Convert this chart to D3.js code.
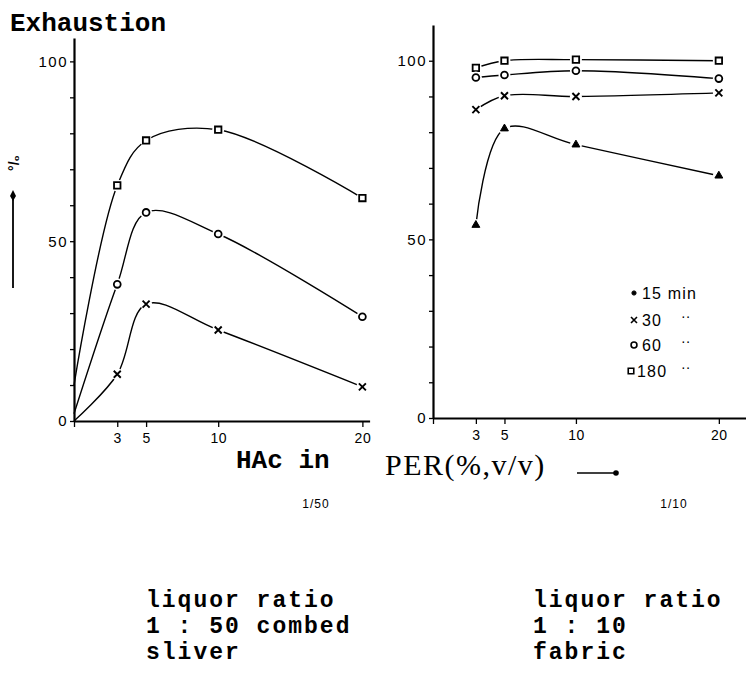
<!DOCTYPE html>
<html><head><meta charset="utf-8">
<script src="https://cdn.jsdelivr.net/npm/d3@7"></script>
<style>body{margin:0;background:#fff}</style></head>
<body><svg id="c" width="746" height="680"></svg>
<script>
// ---------- data ----------
const xLeft = [0, 3, 5, 10, 20];
const left180 = [10, 65.5, 78, 81, 62];
const left60 = [2, 38, 58, 52, 29];
const left30 = [0, 13, 32.5, 25.3, 9.5];

const xRight = [3, 5, 10, 20];
const right180 = [98, 100, 100.3, 100];
const right60 = [95.3, 96, 97.2, 95];
const right30 = [86.3, 90.2, 90, 91];
const right15 = [54, 81, 76.5, 67.8];

const xTicks = [0, 3, 5, 10, 20];
const xTickLabels = ["", "3", "5", "10", "20"];
const yTicks = [0, 10, 20, 30, 40, 50, 60, 70, 80, 90, 100];
const yLabelled = [0, 50, 100];

const legendKeys = ["15", "30", "60", "180"];
const legendLabels = ["15 min", "30", "60", "180"];
const ditto = "\u00B7\u00B7";

const title = "Exhaustion";
const xTitleA = "HAc in";
const xTitleB = "PER(%,v/v)";
const ratioLeft = "1/50";
const ratioRight = "1/10";
const captionLeft = ["liquor ratio", "1 : 50 combed", "sliver"];
const captionRight = ["liquor ratio", "1 : 10", "fabric"];

// ---------- drawing ----------
const svg = d3.select("#c");
const mono = "'Liberation Mono', 'Courier New', monospace";
const serif = "'Liberation Serif', 'Times New Roman', serif";
const sans = "'Liberation Sans', Arial, sans-serif";

function markerPath(key, s) {
  if (key === "15") return d3.symbol(d3.symbolTriangle, s * s * 0.55)();
  if (key === "60") return d3.symbol(d3.symbolCircle, s * s * 0.75)();
  if (key === "180") return d3.symbol(d3.symbolSquare, s * s * 0.85)();
  const h = s / 2;
  return `M${-h},${-h}L${h},${h}M${-h},${h}L${h},${-h}`;
}
function drawMarker(g, key, x, y) {
  g.append("circle").attr("cx", x).attr("cy", y).attr("r", 6).attr("fill", "#fff");
  const p = g.append("path").attr("d", markerPath(key, 7))
    .attr("transform", `translate(${x},${y})`)
    .attr("stroke", "#000");
  if (key === "15") p.attr("fill", "#000").attr("stroke-width", 1);
  else if (key === "30") p.attr("fill", "none").attr("stroke-width", 1.9);
  else p.attr("fill", "#fff").attr("stroke-width", 1.8);
}

function panel(cfg) {
  const g = svg.append("g");
  const x = d3.scaleLinear().domain(cfg.xDomain).range(cfg.xRange);
  const y = d3.scaleLinear().domain(cfg.yDomain).range(cfg.yRange);

  // y axis
  const ya = g.append("g").attr("transform", `translate(${cfg.xRange[0]},0)`)
    .call(d3.axisLeft(y).tickValues(yTicks).tickSizeOuter(0).tickSizeInner(4)
      .tickFormat(d => yLabelled.includes(d) ? d : ""));
  ya.select(".domain").attr("stroke-width", 2.2);
  ya.selectAll(".tick line").attr("stroke-width", 1.3);
  ya.selectAll(".tick text").attr("font-family", sans).attr("font-size", 15)
    .attr("letter-spacing", 1.5).attr("fill", "#000").attr("x", -6);

  // x axis
  const xa = g.append("g").attr("transform", `translate(0,${cfg.yRange[0]})`)
    .call(d3.axisBottom(x).tickValues(xTicks).tickSizeOuter(0).tickSizeInner(6)
      .tickFormat((d, i) => xTickLabels[i]));
  xa.select(".domain").attr("stroke-width", 2.2);
  xa.selectAll(".tick line").attr("stroke-width", 1.3);
  xa.selectAll(".tick text").attr("font-family", sans).attr("font-size", 14)
    .attr("letter-spacing", 0.5).attr("fill", "#000").attr("y", 12);

  const line = d3.line().x(d => x(d[0])).y(d => y(d[1])).curve(d3.curveCatmullRom.alpha(0.5));
  cfg.series.forEach(s => {
    const pts = cfg.xs.map((v, i) => [v, s.values[i]]);
    g.append("path").attr("d", line(pts)).attr("fill", "none")
      .attr("stroke", "#000").attr("stroke-width", 1.4);
  });
  cfg.series.forEach(s => {
    cfg.xs.forEach((v, i) => {
      if (v === 0) return;
      drawMarker(g, s.key, x(v), y(s.values[i]));
    });
  });
  return { x, y, g };
}

panel({
  xDomain: [0, 20.5], xRange: [74, 369.6],
  yDomain: [0, 106.5], yRange: [421, 38],
  xs: xLeft,
  series: [
    { key: "180", values: left180 },
    { key: "60", values: left60 },
    { key: "30", values: left30 }
  ]
});
panel({
  xDomain: [0, 21.9], xRange: [433, 746],
  yDomain: [0, 110], yRange: [418, 25],
  xs: xRight,
  series: [
    { key: "180", values: right180 },
    { key: "60", values: right60 },
    { key: "30", values: right30 },
    { key: "15", values: right15 }
  ]
});

// legend
const legY = [293, 320, 345, 371];
legendKeys.forEach((k, i) => {
  const lg = svg.append("g");
  const p = lg.append("path")
    .attr("d", k === "15" ? d3.symbol(d3.symbolCircle, 14)() : markerPath(k, 6))
    .attr("transform", `translate(${k === "180" ? 631 : 634},${legY[i]})`)
    .attr("stroke", "#000");
  if (k === "15") p.attr("fill", "#000");
  else if (k === "30") p.attr("fill", "none").attr("stroke-width", 1.6);
  else p.attr("fill", "#fff").attr("stroke-width", 1.6);
  lg.append("text").attr("x", k === "180" ? 637 : 642).attr("y", legY[i] + 5.5)
    .attr("font-family", sans).attr("font-size", 16).attr("letter-spacing", 1.2)
    .text(legendLabels[i]);
  if (i > 0) lg.append("text").attr("x", 681).attr("y", legY[i] + 1)
    .attr("font-family", sans).attr("font-size", 14).text(ditto);
});

// titles
svg.append("text").attr("x", 10).attr("y", 31).attr("font-family", mono)
  .attr("font-weight", "bold").attr("font-size", 26).text(title);
svg.append("text").attr("x", 236).attr("y", 468).attr("font-family", mono)
  .attr("font-weight", "bold").attr("font-size", 26).text(xTitleA);
svg.append("text").attr("x", 385).attr("y", 475).attr("font-family", serif)
  .attr("font-size", 30).attr("letter-spacing", 1.5).text(xTitleB);
// arrow after x title
svg.append("line").attr("x1", 577).attr("x2", 615).attr("y1", 473).attr("y2", 473)
  .attr("stroke", "#000").attr("stroke-width", 1.6);
svg.append("circle").attr("cx", 616).attr("cy", 473).attr("r", 2.8).attr("fill", "#000");

// y unit label and arrow
svg.append("text").attr("transform", "translate(19,163) rotate(-90)")
  .attr("text-anchor", "middle").attr("font-family", sans).attr("font-size", 14)
  .attr("font-weight", "bold").text("\u00B0/\u2080");
svg.append("line").attr("x1", 13).attr("x2", 13).attr("y1", 288).attr("y2", 196)
  .attr("stroke", "#000").attr("stroke-width", 1.8);
svg.append("path").attr("d", "M13,190L16,196L13,201L10,196Z").attr("fill", "#000");

// ratio notes
svg.append("text").attr("x", 316).attr("y", 508).attr("text-anchor", "middle")
  .attr("font-family", sans).attr("font-size", 12).attr("letter-spacing", 1).text(ratioLeft);
svg.append("text").attr("x", 674).attr("y", 508).attr("text-anchor", "middle")
  .attr("font-family", sans).attr("font-size", 12).attr("letter-spacing", 1).text(ratioRight);

// captions
[[captionLeft, 146], [captionRight, 533]].forEach(([lines, x0]) => {
  lines.forEach((t, i) => {
    svg.append("text").attr("x", x0).attr("y", 607 + i * 26)
      .attr("font-family", mono).attr("font-weight", "bold").attr("font-size", 23)
      .attr("letter-spacing", 2)
      .attr("xml:space", "preserve").style("white-space", "pre").text(t);
  });
});
</script>
</body></html>
